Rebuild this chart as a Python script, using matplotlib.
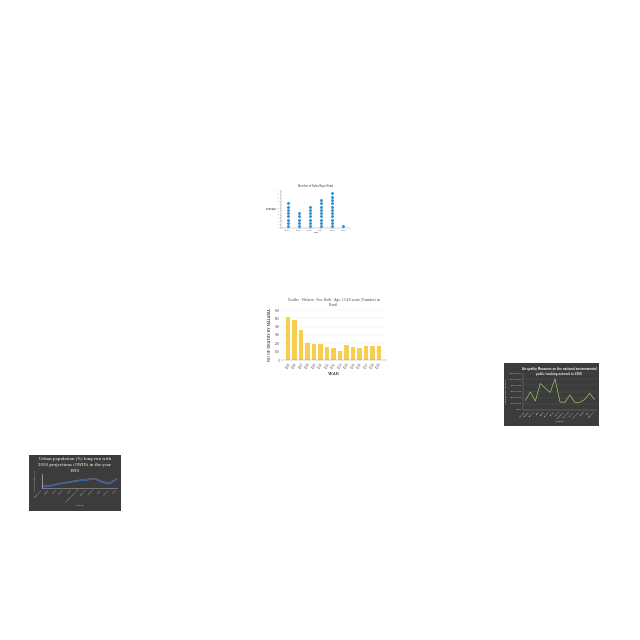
import numpy as np
import matplotlib
matplotlib.use("Agg")
import matplotlib.pyplot as plt

# dot plot data
dot_years = ["2014", "2015", "2016", "2017", "2018", "2019"]
dot_counts = [8, 5, 7, 9, 11, 1]

# malaria bar chart data
bar_years = [str(y) for y in range(2005, 2020)]
bar_deaths = [512, 476, 360, 204, 192, 188, 160, 148, 108, 176, 160, 148, 164, 164, 164]

# air quality line data
aq_counties = ["Autauga", "Baldwin", "Barbour", "Bibb", "Blount", "Bullock", "Butler", "Calhoun",
               "Chambers", "Cherokee", "Chilton", "Choctaw", "Clarke", "Clay", "Cleburne"]
aq_values = [3.1, 5.9, 2.9, 8.6, 7.1, 5.7, 10.1, 2.6, 2.5, 4.9, 2.5, 2.5, 3.4, 5.4, 3.4]

# urban population line data
urb_countries = ["Afghanistan", "Albania", "Algeria", "Andorra", "Angola", "Antigua and Barbuda",
                 "Argentina", "Armenia", "Aruba", "Australia", "Austria"]
urb_values = [18, 20, 26, 30, 34, 38, 40, 44, 33, 27, 44]
urb_values2 = [22, 24, 29, 33, 37, 41, 44, 47, 37, 31, 47]

W = 640.0


def box(x0, y0, x1, y1):
    return [x0 / W, 1 - y1 / W, (x1 - x0) / W, (y1 - y0) / W]


fig = plt.figure(figsize=(6.4, 6.4), dpi=100)
fig.patch.set_facecolor("white")

# ---- dot plot ----
ax1 = fig.add_axes(box(281, 190, 350, 228))
for i, n in enumerate(dot_counts):
    ax1.plot([i] * n, np.arange(n) + 0.5, "o", color="#2b8ccd", markersize=2.3,
             markeredgecolor="white", markeredgewidth=0.2)
ax1.set_xlim(-0.6, 5.6)
ax1.set_ylim(0, 11.5)
ax1.set_xticks(range(len(dot_years)))
ax1.set_xticklabels(dot_years, fontsize=1.5, color="#555555")
ax1.set_yticks(range(0, 12))
ax1.set_yticklabels([str(v) for v in range(0, 12)], fontsize=1.2, color="#777777")
ax1.tick_params(length=1, width=0.2, pad=0.5)
for s in ["top", "right"]:
    ax1.spines[s].set_visible(False)
for s in ["left", "bottom"]:
    ax1.spines[s].set_linewidth(0.3)
    ax1.spines[s].set_color("#999999")
ax1.set_title("Number of Sales Reps Hired", fontsize=1.8, color="#333333", pad=2)
ax1.set_ylabel("Number of\nSales Reps", fontsize=1.4, rotation=0, labelpad=4, va="center")
ax1.set_xlabel("Year", fontsize=1.4, labelpad=1)

# ---- malaria bar chart ----
ax2 = fig.add_axes(box(281, 310, 386, 360))
ax2.bar(bar_years, bar_deaths, color="#f7cf4f", width=0.7)
ax2.set_ylim(0, 600)
ax2.set_yticks(range(0, 601, 100))
ax2.set_yticklabels([str(v) for v in range(0, 601, 100)], fontsize=2, color="#555555")
ax2.set_xticks(range(len(bar_years)))
ax2.set_xticklabels(bar_years, fontsize=1.9, rotation=60, ha="right", rotation_mode="anchor",
                    color="#555555")
ax2.tick_params(length=0, pad=1)
ax2.grid(axis="y", color="#e6e6e6", linewidth=0.3)
ax2.set_axisbelow(True)
for s in ["top", "right", "left"]:
    ax2.spines[s].set_visible(False)
ax2.spines["bottom"].set_linewidth(0.3)
ax2.spines["bottom"].set_color("#999999")
ax2.set_title("Deaths - Malaria - Sex: Both - Age: 15-49 years (Number) in\nBrazil",
              fontsize=2.2, family="DejaVu Serif", color="#444444", pad=3)
ax2.set_ylabel("NO OF DEATHS BY MALARIA", fontsize=2.4, family="DejaVu Serif", labelpad=2)
ax2.set_xlabel("YEAR", fontsize=3, family="DejaVu Serif", labelpad=2)

# ---- air quality (dark) ----
bg3 = fig.add_axes(box(504, 363, 599, 426))
bg3.set_facecolor("#3c3c3c")
bg3.set_xticks([])
bg3.set_yticks([])
for s in bg3.spines.values():
    s.set_visible(False)
bg3.text(0.58, 0.93, "Air quality Measures on the national environmental\npublic tracking network in 2008",
         transform=bg3.transAxes, ha="center", va="top", fontsize=1.8, color="#eeeeee", fontweight="bold")

ax3 = fig.add_axes(box(523, 373, 597, 410))
ax3.set_facecolor("none")
ax3.plot(range(len(aq_values)), aq_values, color="#a5d66f", linewidth=0.45)
ax3.set_ylim(0, 12)
ax3.set_xlim(-0.5, len(aq_values) - 0.5)
ax3.set_yticks(range(0, 13, 2))
ax3.set_yticklabels(["{:,.3f}".format(v * 10000) for v in range(0, 13, 2)], fontsize=1.4, color="#dddddd")
ax3.set_xticks(range(len(aq_counties)))
ax3.set_xticklabels(aq_counties, fontsize=1.4, rotation=45, ha="right", color="#dddddd")
ax3.tick_params(length=0, pad=0.8)
ax3.grid(axis="y", color="#555555", linewidth=0.3)
for s in ["top", "right"]:
    ax3.spines[s].set_visible(False)
for s in ["left", "bottom"]:
    ax3.spines[s].set_color("#888888")
    ax3.spines[s].set_linewidth(0.3)
ax3.set_ylabel("Average daily measure", fontsize=1.6, color="#dddddd", labelpad=1.5)
ax3.set_xlabel("counties", fontsize=1.6, color="#dddddd", labelpad=1.5)

# ---- urban population (dark) ----
bg4 = fig.add_axes(box(29, 455, 121, 511))
bg4.set_facecolor("#3c3c3c")
bg4.set_xticks([])
bg4.set_yticks([])
for s in bg4.spines.values():
    s.set_visible(False)
bg4.text(0.5, 0.96, "Urban population (%) long run with\n2050 projections (OWID) in the year\n1990",
         transform=bg4.transAxes, ha="center", va="top", fontsize=2.8, color="white",
         family="DejaVu Serif", linespacing=1.6)

ax4 = fig.add_axes(box(42, 474, 117, 488))
ax4.set_facecolor("none")
ax4.plot(range(len(urb_values2)), urb_values2, color="#6a7f99", linewidth=0.4)
ax4.plot(range(len(urb_values)), urb_values, color="#3f6fc4", linewidth=0.6)
ax4.set_ylim(15, 60)
ax4.set_xlim(0, len(urb_values) - 1)
ax4.set_yticks([])
ax4.set_xticks(range(len(urb_countries)))
ax4.set_xticklabels(urb_countries, fontsize=1.3, rotation=45, ha="right", color="#cccccc")
ax4.tick_params(length=0, pad=0.8)
for s in ["top", "right"]:
    ax4.spines[s].set_visible(False)
ax4.spines["left"].set_color("#dddddd")
ax4.spines["left"].set_linewidth(0.4)
ax4.spines["bottom"].set_color("#aaaaaa")
ax4.spines["bottom"].set_linewidth(0.4)
ax4.set_ylabel("Urban population (%)", fontsize=1.4, color="#cccccc", labelpad=4)
ax4.set_xlabel("countries", fontsize=1.5, color="#cccccc", labelpad=1)

fig.savefig("out.png", dpi=100)
